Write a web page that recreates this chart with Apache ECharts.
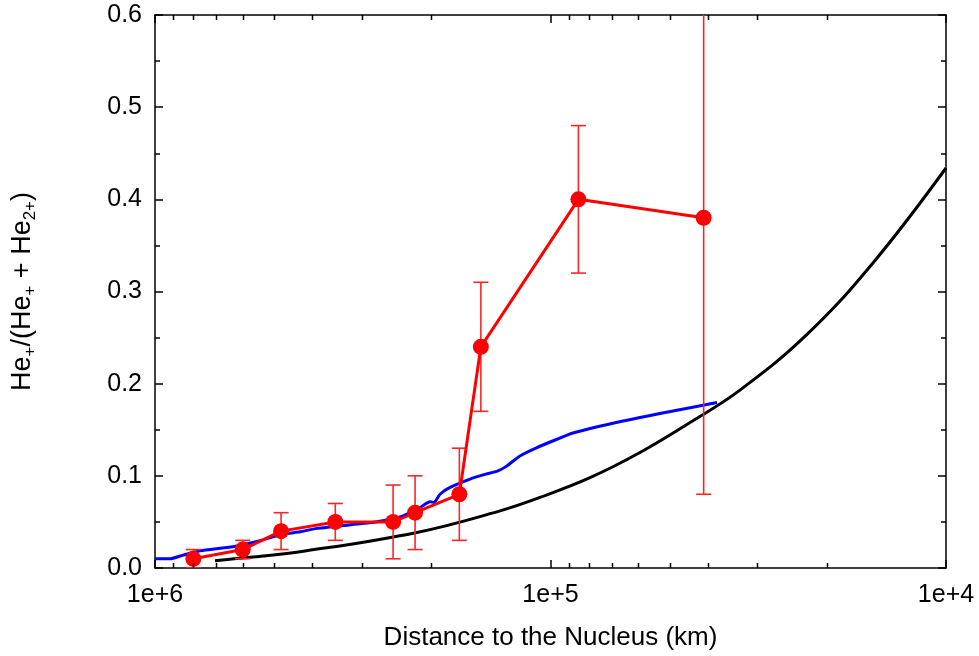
<!DOCTYPE html>
<html>
<head>
<meta charset="utf-8">
<title>He+ fraction vs distance</title>
<script src="https://cdn.jsdelivr.net/npm/echarts@6/dist/echarts.min.js"></script>
<style>
  html, body { margin: 0; padding: 0; background: #fff; }
  #chart { width: 979px; height: 656px; }
</style>
</head>
<body>
<div id="chart"></div>
<script>
// Measured He+ fraction with error bars
const obsDistance = [8.0e5, 6.0e5, 4.8e5, 3.5e5, 2.5e5, 2.2e5, 1.7e5, 1.5e5, 8.5e4, 4.1e4];
const obsRatio    = [0.01, 0.02, 0.04, 0.05, 0.05, 0.06, 0.08, 0.24, 0.40, 0.38];
const obsLow      = [0.00, 0.01, 0.02, 0.03, 0.01, 0.02, 0.03, 0.17, 0.32, 0.08];
const obsHigh     = [0.02, 0.03, 0.06, 0.07, 0.09, 0.10, 0.13, 0.31, 0.48, 0.68];

// Model curve (blue)
const blueDistance = [1.0e6, 9.165e5, 8.496e5, 7.694e5, 6.35e5, 5.427e5, 4.746e5, 4.298e5, 3.894e5,
  2.911e5, 2.652e5, 2.374e5, 2.138e5, 2.017e5, 1.97e5, 1.903e5, 1.795e5, 1.598e5, 1.481e5,
  1.358e5, 1.288e5, 1.195e5, 1.082e5, 9.629e4, 8.772e4, 6.558e4, 4.9e4, 3.794e4];
const blueRatio = [0.0100, 0.0100, 0.0140, 0.0187, 0.0230, 0.0296, 0.0368, 0.0393, 0.0430,
  0.0487, 0.0512, 0.0560, 0.0657, 0.0718, 0.0712, 0.0800, 0.0874, 0.0964, 0.1010,
  0.1054, 0.1108, 0.1216, 0.1307, 0.1397, 0.1465, 0.1595, 0.1704, 0.1795];

// Model curve (black)
const blackDistance = [7.053e5, 5.753e5, 4.298e5, 2.176e5, 1.342e5, 1.063e5, 7.946e4, 5.939e4,
  4.439e4, 3.318e4, 2.246e4, 1.53e4, 1.0e4];
const blackRatio = [0.0079, 0.0116, 0.0177, 0.0386, 0.0620, 0.0766, 0.0980, 0.1253,
  0.1578, 0.1930, 0.2534, 0.3310, 0.4340];

// Axis ticks
const xMin = 1e4, xMax = 1e6;
const xMinorTicks = [2e4, 3e4, 4e4, 5e4, 6e4, 7e4, 8e4, 9e4, 2e5, 3e5, 4e5, 5e5, 6e5, 7e5, 8e5, 9e5];
const yMin = 0, yMax = 0.6, yStep = 0.1;

const FONT = '"Liberation Sans", Arial, sans-serif';
const chart = echarts.init(document.getElementById('chart'), null, { renderer: 'canvas' });

const axisLineStyle = { color: '#000', width: 1.5 };

function xAxisCfg(pos, withLabels) {
  return {
    type: 'log', logBase: 10, inverse: true, min: xMin, max: xMax, position: pos,
    axisLine: { show: true, onZero: false, lineStyle: axisLineStyle },
    axisTick: { show: true, inside: true, length: 8, lineStyle: { color: '#000', width: 1.5 } },
    axisLabel: {
      show: withLabels, color: '#000', fontSize: 25, fontFamily: FONT, margin: 15,
      formatter: v => '1e+' + Math.round(Math.log10(v))
    },
    splitLine: { show: false },
    name: withLabels ? 'Distance to the Nucleus (km)' : '',
    nameLocation: 'middle', nameGap: 57,
    nameTextStyle: { color: '#000', fontSize: 26, fontFamily: FONT }
  };
}

function yAxisCfg(pos, withLabels) {
  return {
    type: 'value', min: yMin, max: yMax, interval: yStep, position: pos,
    axisLine: { show: true, onZero: false, lineStyle: axisLineStyle },
    axisTick: { show: true, inside: true, length: 8, lineStyle: { color: '#000', width: 1.5 } },
    minorTick: { show: true, splitNumber: 2, length: 5, lineStyle: { color: '#000', width: 1.5 } },
    axisLabel: {
      show: withLabels, color: '#000', fontSize: 25, fontFamily: FONT, margin: 13,
      formatter: v => v.toFixed(1)
    },
    splitLine: { show: false },
    minorSplitLine: { show: false },
    name: withLabels ? '{m|He}{s|+}{m|/(He}{s|+}{m| + He}{s|2+}{m|)}' : '',
    nameLocation: 'middle', nameGap: 116,
    nameTextStyle: {
      color: '#000', fontFamily: FONT,
      rich: {
        m: { fontSize: 27, fontFamily: FONT, color: '#000', lineHeight: 32 },
        s: { fontSize: 17, fontFamily: FONT, color: '#000', verticalAlign: 'bottom', lineHeight: 28 }
      }
    }
  };
}

const obsLine = obsDistance.map((d, i) => [d, obsRatio[i]]);
const obsErr = obsDistance.map((d, i) => [d, obsLow[i], obsHigh[i]]);
const blueLine = blueDistance.map((d, i) => [d, blueRatio[i]]);
const blackLine = blackDistance.map((d, i) => [d, blackRatio[i]]);
const minorData = xMinorTicks.map(d => [d, 0]);

const option = {
  animation: false,
  backgroundColor: '#fff',
  grid: { left: 155, right: 33, top: 15, bottom: 87, containLabel: false },
  xAxis: [xAxisCfg('bottom', true), xAxisCfg('top', false)],
  yAxis: [yAxisCfg('left', true), yAxisCfg('right', false)],
  series: [
    {
      // minor decade ticks on bottom and top edges
      type: 'custom', xAxisIndex: 0, yAxisIndex: 0, silent: true, clip: false, z: 5,
      data: minorData,
      renderItem: function (params, api) {
        const p = api.coord([api.value(0), 0]);
        const cs = params.coordSys;
        const x = Math.round(p[0]) + 0.5;
        const st = { stroke: '#000', lineWidth: 1.5 };
        return {
          type: 'group',
          children: [
            { type: 'line', shape: { x1: x, y1: cs.y + cs.height, x2: x, y2: cs.y + cs.height - 5 }, style: st },
            { type: 'line', shape: { x1: x, y1: cs.y, x2: x, y2: cs.y + 5 }, style: st }
          ]
        };
      }
    },
    {
      type: 'line', name: 'model A', data: blueLine, xAxisIndex: 0, yAxisIndex: 0,
      showSymbol: false, smooth: 0.2,
      lineStyle: { color: '#0000ff', width: 3 }, z: 2
    },
    {
      type: 'line', name: 'model B', data: blackLine, xAxisIndex: 0, yAxisIndex: 0,
      showSymbol: false, smooth: 0.4,
      lineStyle: { color: '#000', width: 3 }, z: 2
    },
    {
      // error bars of the measurements
      type: 'custom', xAxisIndex: 0, yAxisIndex: 0, clip: true, z: 3,
      data: obsErr,
      renderItem: function (params, api) {
        const x = api.value(0);
        const lo = api.coord([x, api.value(1)]);
        const hi = api.coord([x, api.value(2)]);
        const half = 7.5;
        const st = { stroke: '#ff2424', lineWidth: 1.6 };
        return {
          type: 'group',
          children: [
            { type: 'line', shape: { x1: lo[0], y1: lo[1], x2: hi[0], y2: hi[1] }, style: st },
            { type: 'line', shape: { x1: lo[0] - half, y1: lo[1], x2: lo[0] + half, y2: lo[1] }, style: st },
            { type: 'line', shape: { x1: hi[0] - half, y1: hi[1], x2: hi[0] + half, y2: hi[1] }, style: st }
          ]
        };
      }
    },
    {
      type: 'line', name: 'measured', data: obsLine, xAxisIndex: 0, yAxisIndex: 0,
      symbol: 'circle', symbolSize: 16, showAllSymbol: true,
      lineStyle: { color: '#ff0000', width: 3 },
      itemStyle: { color: '#ff0000' }, z: 4
    }
  ]
};

chart.setOption(option);
</script>
</body>
</html>
